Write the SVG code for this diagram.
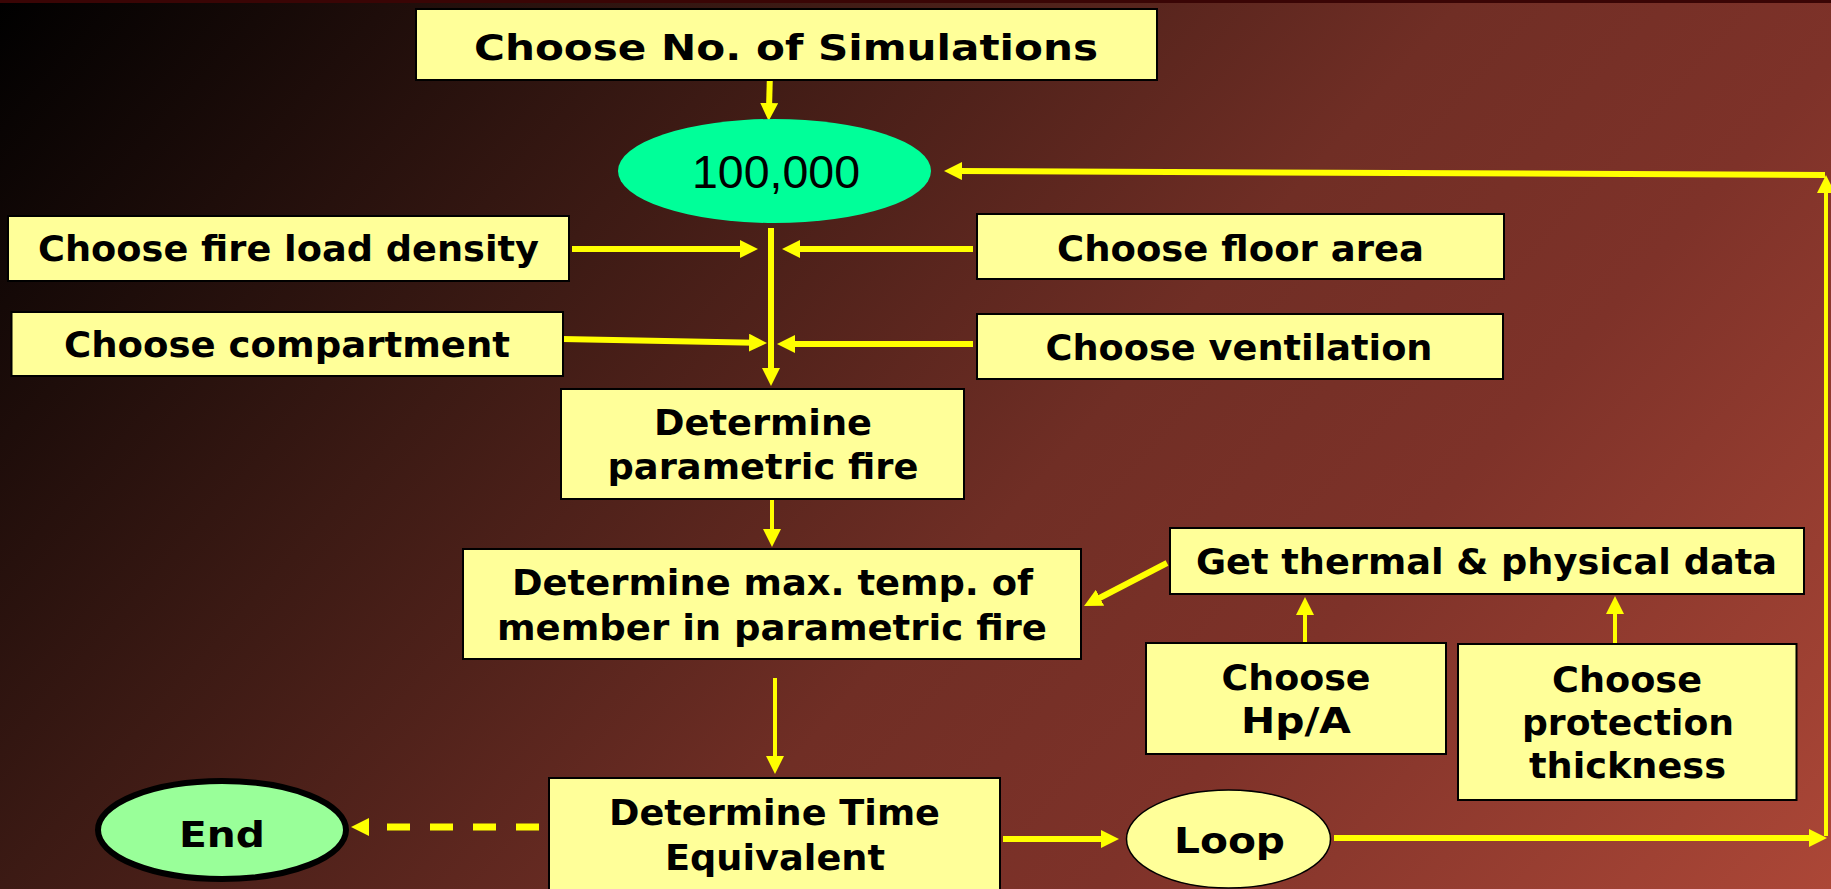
<svg xmlns="http://www.w3.org/2000/svg" width="1831" height="889" viewBox="0 0 1831 889">
<defs>
<linearGradient id="bg" gradientUnits="userSpaceOnUse" x1="0" y1="0" x2="1471" y2="1297">
<stop offset="0" stop-color="#000000"/>
<stop offset="0.3" stop-color="#3c1a14"/>
<stop offset="0.56" stop-color="#702e25"/>
<stop offset="0.72" stop-color="#7e3229"/>
<stop offset="1" stop-color="#ac4737"/>
</linearGradient>
<marker id="ah" viewBox="0 0 18 18" refX="6" refY="9" markerWidth="18" markerHeight="18" markerUnits="userSpaceOnUse" orient="auto">
<path d="M0,0 L18,9 L0,18 z" fill="#ffff00"/>
</marker>
<style>
.box{fill:#ffff99;stroke:#000;stroke-width:2}
.t{font-family:"DejaVu Sans","Liberation Sans",sans-serif;font-weight:bold;font-size:36px;fill:#000;text-anchor:middle}
.c{fill:none;stroke:#ffff00;stroke-width:6;marker-end:url(#ah)}
.thin{stroke-width:4}
.dash{stroke-dasharray:23 20;stroke-width:7}
</style>
</defs>
<rect x="0" y="0" width="1831" height="889" fill="url(#bg)"/>
<rect x="0" y="0" width="1831" height="3" fill="#3a0505"/>

<g id="connectors">
<line class="c" x1="770" y1="72" x2="769" y2="109"/>
<line class="c" x1="771" y1="228" x2="771" y2="374"/>
<line class="c" x1="572" y1="249" x2="746" y2="249"/>
<line class="c" x1="973" y1="249" x2="794" y2="249"/>
<line class="c" x1="562" y1="339" x2="755" y2="342.8"/>
<line class="c" x1="973" y1="344" x2="789" y2="344"/>
<line class="c thin" x1="772" y1="499" x2="772" y2="535"/>
<line class="c thin" x1="775" y1="678" x2="775" y2="762"/>
<line class="c dash" x1="539" y1="827" x2="363" y2="827"/>
<line class="c" x1="1003" y1="839" x2="1107" y2="839"/>
<line class="c" x1="1334" y1="838" x2="1815" y2="838"/>
<line class="c thin" x1="1826" y1="836" x2="1826" y2="187"/>
<line class="c" x1="1825" y1="175" x2="956" y2="171"/>
<line class="c" x1="1167" y1="563" x2="1094.7" y2="600.5"/>
<line class="c thin" x1="1305" y1="643" x2="1305" y2="609"/>
<line class="c thin" x1="1615" y1="644" x2="1615" y2="608"/>
</g>

<g id="n-simulations">
<rect class="box" x="416" y="9" width="741" height="71"/>
<text class="t" x="786" y="60" font-size="42" textLength="624" lengthAdjust="spacingAndGlyphs">Choose No. of Simulations</text>
</g>
<g id="n-100000">
<ellipse cx="774.5" cy="171" rx="156.5" ry="52" fill="#00ff99"/>
<text x="776" y="188" font-family="Liberation Sans, Arial, sans-serif" font-size="46" text-anchor="middle" textLength="168" lengthAdjust="spacingAndGlyphs">100,000</text>
</g>
<g id="n-fireload">
<rect class="box" x="8" y="216" width="561" height="65"/>
<text class="t" x="288.5" y="261" textLength="501" lengthAdjust="spacingAndGlyphs">Choose fire load density</text>
</g>
<g id="n-floorarea">
<rect class="box" x="977" y="214" width="527" height="65"/>
<text class="t" x="1240.5" y="261" textLength="367" lengthAdjust="spacingAndGlyphs">Choose floor area</text>
</g>
<g id="n-compartment">
<rect class="box" x="11.5" y="312" width="551.5" height="64"/>
<text class="t" x="287" y="357" textLength="446" lengthAdjust="spacingAndGlyphs">Choose compartment</text>
</g>
<g id="n-ventilation">
<rect class="box" x="977" y="314" width="526" height="65"/>
<text class="t" x="1239" y="360" textLength="387" lengthAdjust="spacingAndGlyphs">Choose ventilation</text>
</g>
<g id="n-parametric">
<rect class="box" x="561" y="389" width="403" height="110"/>
<text class="t" x="763" y="435" textLength="218" lengthAdjust="spacingAndGlyphs">Determine</text>
<text class="t" x="763" y="479" textLength="311" lengthAdjust="spacingAndGlyphs">parametric fire</text>
</g>
<g id="n-maxtemp">
<rect class="box" x="463" y="549" width="618" height="110"/>
<text class="t" x="772.5" y="595" textLength="521" lengthAdjust="spacingAndGlyphs">Determine max. temp. of</text>
<text class="t" x="772" y="640" textLength="550" lengthAdjust="spacingAndGlyphs">member in parametric fire</text>
</g>
<g id="n-timeeq">
<rect class="box" x="549" y="778" width="451" height="120"/>
<text class="t" x="774.5" y="825" textLength="331" lengthAdjust="spacingAndGlyphs">Determine Time</text>
<text class="t" x="775" y="870" textLength="220" lengthAdjust="spacingAndGlyphs">Equivalent</text>
</g>
<g id="n-end">
<ellipse cx="222" cy="830" rx="124" ry="49" fill="#99ff99" stroke="#000" stroke-width="6"/>
<text class="t" x="222" y="847" font-size="41" textLength="86" lengthAdjust="spacingAndGlyphs">End</text>
</g>
<g id="n-thermal">
<rect class="box" x="1170" y="528" width="634" height="66"/>
<text class="t" x="1486.5" y="574" textLength="581" lengthAdjust="spacingAndGlyphs">Get thermal &amp; physical data</text>
</g>
<g id="n-hpa">
<rect class="box" x="1146" y="643" width="300" height="111"/>
<text class="t" x="1296" y="690" textLength="149" lengthAdjust="spacingAndGlyphs">Choose</text>
<text class="t" x="1296" y="733" textLength="110" lengthAdjust="spacingAndGlyphs">Hp/A</text>
</g>
<g id="n-protection">
<rect class="box" x="1458" y="644" width="338.5" height="156"/>
<text class="t" x="1627" y="692" textLength="150" lengthAdjust="spacingAndGlyphs">Choose</text>
<text class="t" x="1628" y="735" textLength="212" lengthAdjust="spacingAndGlyphs">protection</text>
<text class="t" x="1627.5" y="778" textLength="197" lengthAdjust="spacingAndGlyphs">thickness</text>
</g>
<g id="n-loop">
<ellipse cx="1228.5" cy="839" rx="102" ry="49" fill="#ffff99" stroke="#000" stroke-width="1.5"/>
<text class="t" x="1229.5" y="853" font-size="39" textLength="111" lengthAdjust="spacingAndGlyphs">Loop</text>
</g>
</svg>
